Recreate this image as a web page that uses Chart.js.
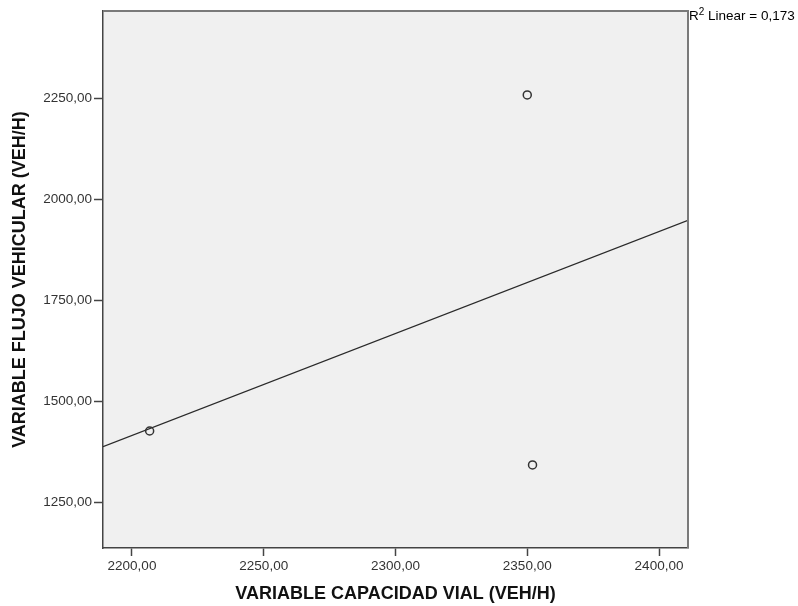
<!DOCTYPE html>
<html>
<head>
<meta charset="utf-8">
<script src="https://cdn.jsdelivr.net/npm/chart.js@4"></script>
<style>
  html, body { margin: 0; padding: 0; background: #fff; }
  #wrap { width: 798px; height: 606px; }
</style>
</head>
<body>
<div id="wrap"><canvas id="chart" width="798" height="606"></canvas></div>
<script>
// values
const capacidad = [2206.7, 2350, 2352];
const flujo = [1426, 2259, 1342];
const fitX = [2189, 2411];
const fitY = [1387, 1948];
const xTicks = [2200, 2250, 2300, 2350, 2400];
const yTicks = [1250, 1500, 1750, 2000, 2250];
const xRange = [2189, 2411];
const yRange = [1136, 2467];
const rSquared = "0,173";

const fmt = (v) => v.toFixed(2).replace(".", ",");

const frame = {
  id: "frame",
  beforeDraw(chart) {
    const { ctx, chartArea: a } = chart;
    ctx.save();
    ctx.fillStyle = "#f0f0f0";
    ctx.fillRect(a.left, a.top, a.right - a.left, a.bottom - a.top);
    ctx.restore();
  },
  afterDraw(chart) {
    const { ctx, chartArea: a } = chart;
    ctx.save();
    ctx.strokeStyle = "#7a7a7a";
    ctx.lineWidth = 2;
    ctx.beginPath();
    ctx.moveTo(a.left, a.top);
    ctx.lineTo(a.right, a.top);
    ctx.lineTo(a.right, a.bottom);
    ctx.stroke();

    // R² label
    ctx.fillStyle = "#000";
    ctx.textBaseline = "alphabetic";
    ctx.font = "13.5px 'Liberation Sans', Arial, sans-serif";
    let x = a.right + 1;
    const y = a.top + 9;
    ctx.fillText("R", x, y);
    x += ctx.measureText("R").width;
    ctx.font = "10px 'Liberation Sans', Arial, sans-serif";
    ctx.fillText("2", x, y - 5);
    x += ctx.measureText("2").width;
    ctx.font = "13.5px 'Liberation Sans', Arial, sans-serif";
    ctx.fillText(" Linear = " + rSquared, x, y);
    ctx.restore();
  },
};

const tickFont = { family: "'Liberation Sans', Arial, sans-serif", size: 13.5 };
const titleFont = { family: "'Liberation Sans', Arial, sans-serif", size: 18, weight: "bold" };

new Chart(document.getElementById("chart"), {
  type: "scatter",
  data: {
    datasets: [
      {
        label: "Observado",
        data: capacidad.map((x, i) => ({ x, y: flujo[i] })),
        pointRadius: 4,
        pointBorderWidth: 1.5,
        borderColor: "#333",
        backgroundColor: "rgba(0,0,0,0)",
        order: 1,
      },
      {
        label: "Linear",
        data: fitX.map((x, i) => ({ x, y: fitY[i] })),
        showLine: true,
        pointRadius: 0,
        borderColor: "#2a2a2a",
        borderWidth: 1.3,
        order: 2,
      },
    ],
  },
  options: {
    responsive: false,
    animation: false,
    events: [],
    layout: { padding: { top: 11, right: 110, left: 0, bottom: 0 } },
    plugins: { legend: { display: false }, tooltip: { enabled: false } },
    scales: {
      x: {
        type: "linear",
        min: xRange[0],
        max: xRange[1],
        afterBuildTicks: (s) => { s.ticks = xTicks.map((v) => ({ value: v })); },
        afterFit: (s) => { s.height = 58; },
        grid: { drawOnChartArea: false, drawTicks: true, tickLength: 8, tickColor: "#444", tickWidth: 1.5 },
        border: { display: true, color: "#444", width: 1.5 },
        ticks: { callback: (v) => fmt(v), color: "#333", font: tickFont, padding: 2, maxRotation: 0 },
        title: { display: true, text: "VARIABLE CAPACIDAD VIAL (VEH/H)", color: "#111", font: titleFont, padding: { top: 0, bottom: 1 } },
      },
      y: {
        type: "linear",
        min: yRange[0],
        max: yRange[1],
        afterBuildTicks: (s) => { s.ticks = yTicks.map((v) => ({ value: v })); },
        afterFit: (s) => { s.width = 103; },
        grid: { drawOnChartArea: false, drawTicks: true, tickLength: 9, tickColor: "#444", tickWidth: 1.5 },
        border: { display: true, color: "#444", width: 1.5 },
        ticks: { callback: (v) => fmt(v), color: "#333", font: tickFont, padding: 2 },
        title: { display: true, text: "VARIABLE FLUJO VEHICULAR (VEH/H)", color: "#111", font: titleFont, padding: { top: 9, bottom: 0 } },
      },
    },
  },
  plugins: [frame],
});
</script>
</body>
</html>
